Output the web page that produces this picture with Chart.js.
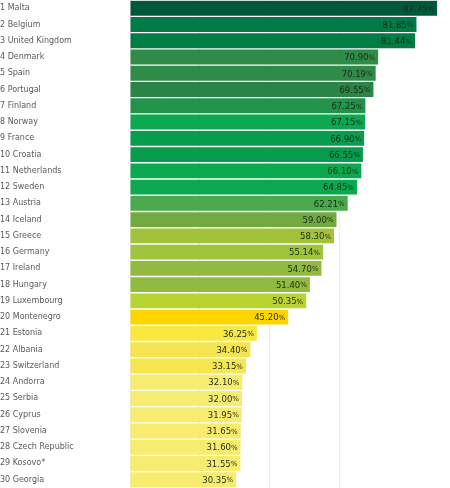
<!DOCTYPE html>
<html>
<head>
<meta charset="utf-8">
<script src="https://cdn.jsdelivr.net/npm/chart.js@4/dist/chart.umd.min.js"></script>
<style>
  html, body { margin: 0; padding: 0; background: #fff; }
  #wrap { width: 450px; height: 488px; position: relative; }
</style>
</head>
<body>
<div id="wrap"><canvas id="chart"></canvas></div>
<script>
const countries = [
  "Malta", "Belgium", "United Kingdom", "Denmark", "Spain", "Portugal",
  "Finland", "Norway", "France", "Croatia", "Netherlands", "Sweden",
  "Austria", "Iceland", "Greece", "Germany", "Ireland", "Hungary",
  "Luxembourg", "Montenegro", "Estonia", "Albania", "Switzerland", "Andorra",
  "Serbia", "Cyprus", "Slovenia", "Czech Republic", "Kosovo*", "Georgia"
];
const scores = [
  87.75, 81.85, 81.44, 70.90, 70.19, 69.55, 67.25, 67.15, 66.90, 66.55,
  66.10, 64.85, 62.21, 59.00, 58.30, 55.14, 54.70, 51.40, 50.35, 45.20,
  36.25, 34.40, 33.15, 32.10, 32.00, 31.95, 31.65, 31.60, 31.55, 30.35
];
const barColors = [
  "#00583a", "#007a47", "#007c45", "#2e8c48", "#2e8c48", "#2a8446",
  "#22944a", "#0aa84f", "#069e4e", "#069c4c", "#0aa84f", "#0aa84f",
  "#4aaa4c", "#72aa40", "#a2c23c", "#a0c43c", "#90bb40", "#90bb40",
  "#b8d432", "#ffd500", "#f9e840", "#f6e350", "#f6e650", "#f8ec70",
  "#f8ec70", "#f8ec70", "#f8ec70", "#f8ec70", "#f8ec70", "#f8ec70"
];
const labels = countries.map((c, i) => (i + 1) + " " + c);

// value text at the end of each bar, small % sign
const valueLabels = {
  id: "valueLabels",
  afterDatasetsDraw(chart) {
    const ctx = chart.ctx;
    const meta = chart.getDatasetMeta(0);
    ctx.save();
    ctx.textBaseline = "middle";
    meta.data.forEach((bar, i) => {
      const num = scores[i].toFixed(2);
      ctx.font = "7px 'DejaVu Sans'";
      const pw = ctx.measureText("%").width;
      const right = bar.x - 3;
      ctx.fillStyle = "#1c2a1c";
      ctx.textAlign = "right";
      ctx.fillText("%", right, bar.y + 1);
      ctx.font = "8.5px 'DejaVu Sans'";
      ctx.fillText(num, right - pw, bar.y + 1);
    });
    ctx.restore();
  }
};

new Chart(document.getElementById("chart"), {
  type: "bar",
  data: {
    labels: labels,
    datasets: [{
      data: scores,
      backgroundColor: barColors,
      borderWidth: 0,
      barPercentage: 1,
      categoryPercentage: 0.92
    }]
  },
  options: {
    indexAxis: "y",
    responsive: true,
    maintainAspectRatio: false,
    animation: false,
    layout: { padding: 0 },
    plugins: {
      legend: { display: false },
      tooltip: { enabled: false }
    },
    scales: {
      x: {
        min: 0,
        max: 91.43,
        ticks: { display: false, stepSize: 20 },
        grid: { color: "#ececec", drawTicks: false },
        border: { display: false }
      },
      y: {
        ticks: {
          crossAlign: "far",
          color: "#5a5a5a",
          padding: 0,
          font: { family: "'DejaVu Sans'", size: 8, lineHeight: 0.05 }
        },
        grid: { display: false },
        border: { display: false },
        afterFit(scale) { scale.width = 130; }
      }
    }
  },
  plugins: [valueLabels]
});
</script>
</body>
</html>
